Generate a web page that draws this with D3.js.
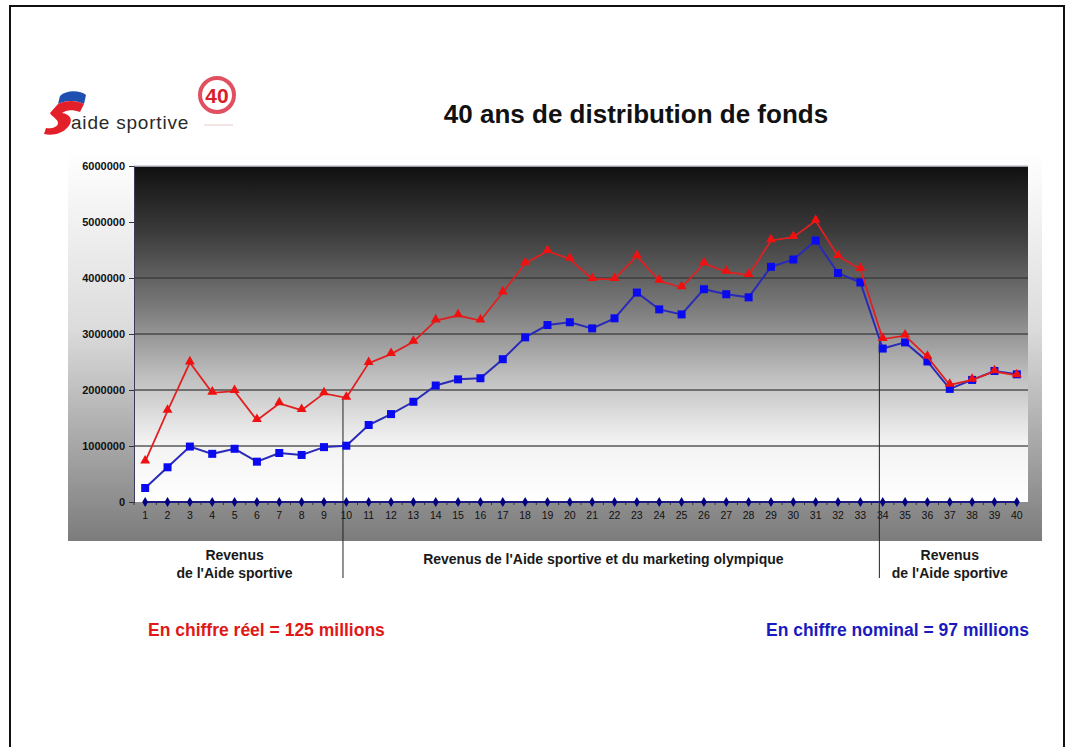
<!DOCTYPE html>
<html>
<head>
<meta charset="utf-8">
<script src="https://cdn.jsdelivr.net/npm/d3@7"></script>
<style>
  body { margin: 0; background: #fff; }
  text { font-family: "Liberation Sans", Arial, sans-serif; }
</style>
</head>
<body>
<script>
// data
var years = d3.range(1, 41);
var reel = [720000,1625000,2490000,1950000,1980000,1460000,1760000,1640000,1940000,1860000,
            2480000,2640000,2860000,3240000,3330000,3240000,3740000,4260000,4480000,4340000,
            3980000,3980000,4390000,3950000,3830000,4260000,4110000,4050000,4670000,4730000,
            5020000,4390000,4160000,2910000,2970000,2590000,2090000,2180000,2330000,2260000];
var nominal = [250000,620000,990000,860000,950000,720000,875000,840000,980000,1005000,
               1375000,1570000,1790000,2080000,2190000,2210000,2550000,2940000,3160000,3210000,
               3100000,3280000,3740000,3440000,3350000,3800000,3710000,3655000,4200000,4330000,
               4670000,4090000,3920000,2740000,2850000,2510000,2020000,2180000,2340000,2280000];
var zeroes = years.map(function(){ return 0; });
var yTicks = [0,1000000,2000000,3000000,4000000,5000000,6000000];
var periods = [
  {from:1, to:10, lines:["Revenus","de l'Aide sportive"]},
  {from:10, to:34, lines:["Revenus de l'Aide sportive et du marketing olympique"]},
  {from:34, to:41, lines:["Revenus","de l'Aide sportive"]}
];
var splits = [10, 34];

var W = 1069, H = 747;
var plot = {left:134, top:166, right:1028, bottom:502};

var svg = d3.select("body").append("svg").attr("width", W).attr("height", H);
var defs = svg.append("defs");

// chart area background (white -> grey)
var g1 = defs.append("linearGradient").attr("id","chartBg").attr("x1",0).attr("y1",0).attr("x2",0).attr("y2",1);
g1.append("stop").attr("offset","0%").attr("stop-color","#ffffff");
g1.append("stop").attr("offset","45%").attr("stop-color","#dcdcdc");
g1.append("stop").attr("offset","100%").attr("stop-color","#7c7c7c");

// plot area background (black -> white)
var g2 = defs.append("linearGradient").attr("id","plotBg").attr("x1",0).attr("y1",0).attr("x2",0).attr("y2",1);
g2.append("stop").attr("offset","0%").attr("stop-color","#101010");
g2.append("stop").attr("offset","20%").attr("stop-color","#3c3c3c");
g2.append("stop").attr("offset","42%").attr("stop-color","#7a7a7a");
g2.append("stop").attr("offset","62%").attr("stop-color","#bdbdbd");
g2.append("stop").attr("offset","82%").attr("stop-color","#f2f2f2");
g2.append("stop").attr("offset","100%").attr("stop-color","#ffffff");

// page frame
svg.append("rect").attr("x",10).attr("y",6).attr("width",1054).attr("height",760)
  .attr("fill","none").attr("stroke","#111").attr("stroke-width",2);

// chart area
svg.append("rect").attr("x",68).attr("y",152).attr("width",974).attr("height",389)
  .attr("fill","url(#chartBg)");

var x = d3.scaleBand().domain(years).range([plot.left, plot.right]);
var y = d3.scaleLinear().domain([0, 6000000]).range([plot.bottom, plot.top]);
var cx = function(d, i){ return x(years[i]) + x.bandwidth()/2; };

svg.append("rect").attr("x",plot.left).attr("y",plot.top)
  .attr("width",plot.right-plot.left).attr("height",plot.bottom-plot.top)
  .attr("fill","url(#plotBg)");
svg.append("line").attr("x1",plot.left).attr("x2",plot.right).attr("y1",plot.top).attr("y2",plot.top)
  .attr("stroke","#c8c8d8").attr("stroke-width",1.5);

// gridlines
svg.append("g").selectAll("line").data(yTicks.slice(1,6)).enter().append("line")
  .attr("x1",plot.left).attr("x2",plot.right)
  .attr("y1",function(d){return y(d);}).attr("y2",function(d){return y(d);})
  .attr("stroke","#333").attr("stroke-opacity",0.6).attr("stroke-width",2);

// y axis
var yAxis = svg.append("g").attr("transform","translate("+plot.left+",0)")
  .call(d3.axisLeft(y).tickValues(yTicks).tickFormat(d3.format("d")).tickSize(5).tickPadding(4));
yAxis.select(".domain").attr("stroke","#3a3a5a");
yAxis.selectAll(".tick line").attr("stroke","#333");
yAxis.selectAll("text").attr("font-size",11).attr("font-weight","bold").attr("fill","#111")
  .attr("font-family","Liberation Sans, Arial, sans-serif");

// x axis
var xAxis = svg.append("g").attr("transform","translate(0,"+plot.bottom+")")
  .call(d3.axisBottom(x).tickSize(0).tickPadding(10));
xAxis.select(".domain").remove();
xAxis.selectAll("text").attr("font-size",10.5).attr("fill","#111")
  .attr("font-family","Liberation Sans, Arial, sans-serif");
svg.append("g").selectAll("line").data(years).enter().append("line")
  .attr("x1",function(d){return x(d);}).attr("x2",function(d){return x(d);})
  .attr("y1",plot.bottom).attr("y2",plot.bottom+3)
  .attr("stroke","#333").attr("stroke-width",1);

// separators between periods
svg.append("g").selectAll("line").data(splits).enter().append("line")
  .attr("x1",function(d){return x(d) + x.bandwidth()*0.35;})
  .attr("x2",function(d){return x(d) + x.bandwidth()*0.35;})
  .attr("y1",function(d){return y(Math.max(reel[d-1], nominal[d-1]));})
  .attr("y2",578)
  .attr("stroke","#222").attr("stroke-width",1);

var line = d3.line().x(cx).y(function(d){ return y(d); });

// zero series
svg.append("path").datum(zeroes).attr("d",line)
  .attr("fill","none").attr("stroke","#1a1a80").attr("stroke-width",2);
svg.append("g").selectAll("path").data(zeroes).enter().append("path")
  .attr("d", d3.symbol().type(d3.symbolDiamond).size(30))
  .attr("transform",function(d,i){return "translate("+cx(d,i)+","+y(d)+")";})
  .attr("fill","#000080");

// nominal (blue)
svg.append("path").datum(nominal).attr("d",line)
  .attr("fill","none").attr("stroke","#2a2ab8").attr("stroke-width",2);
svg.append("g").selectAll("rect").data(nominal).enter().append("rect")
  .attr("x",function(d,i){return cx(d,i)-4;}).attr("y",function(d){return y(d)-4;})
  .attr("width",8).attr("height",8).attr("fill","#0a0af0");

// reel (red)
svg.append("path").datum(reel).attr("d",line)
  .attr("fill","none").attr("stroke","#e02020").attr("stroke-width",1.8);
svg.append("g").selectAll("path").data(reel).enter().append("path")
  .attr("d", d3.symbol().type(d3.symbolTriangle).size(42))
  .attr("transform",function(d,i){return "translate("+cx(d,i)+","+(y(d)-1)+")";})
  .attr("fill","#f01010");

// period labels
periods.forEach(function(p){
  var mid = (x(p.from) + (p.to > 40 ? plot.right : x(p.to))) / 2;
  var t = svg.append("text").attr("x", mid).attr("text-anchor","middle")
    .attr("font-size",14).attr("font-weight","bold").attr("fill","#1a1a1a");
  if (p.lines.length === 1) {
    t.attr("y",564).text(p.lines[0]);
  } else {
    p.lines.forEach(function(s, k){
      t.append("tspan").attr("x",mid).attr("y",560 + k*18).text(s);
    });
  }
});

// totals
svg.append("text").attr("x",148).attr("y",636).attr("font-size",17.5).attr("font-weight","bold")
  .attr("fill","#e01818").text("En chiffre réel = 125 millions");
svg.append("text").attr("x",1029).attr("y",636).attr("text-anchor","end").attr("font-size",17.5)
  .attr("font-weight","bold").attr("fill","#1a1ac0").text("En chiffre nominal = 97 millions");

// title
svg.append("text").attr("x",636).attr("y",123).attr("text-anchor","middle")
  .attr("font-size",26).attr("font-weight","bold").attr("fill","#111")
  .text("40 ans de distribution de fonds");

// logo
var logo = svg.append("g");
logo.append("path").attr("d","M60,96 C66,90 80,90 86,95 L84,104 C76,100 66,100 58,104 Z").attr("fill","#1f4fb0");
logo.append("path")
  .attr("d","M58,104 C66,100 76,100 84,104 L80,112 C72,109 66,110 62,113 C70,114 74,120 68,127 C62,134 52,136 44,134 L46,128 C52,129 58,127 58,123 C58,119 52,117 50,113 Z")
  .attr("fill","#e3202a");
logo.append("text").attr("x",71).attr("y",129).attr("font-size",19).attr("letter-spacing",0.8)
  .attr("fill","#2a2a2a").attr("font-family","DejaVu Sans, sans-serif").text("aide sportive");
logo.append("circle").attr("cx",217).attr("cy",95).attr("r",17).attr("fill","#fff")
  .attr("stroke","#e05060").attr("stroke-width",4);
logo.append("text").attr("x",217).attr("y",103).attr("text-anchor","middle").attr("font-size",21)
  .attr("font-weight","bold").attr("fill","#d8202a").text("40");
logo.append("line").attr("x1",204).attr("x2",233).attr("y1",125).attr("y2",125)
  .attr("stroke","#e8c8c8").attr("stroke-width",1);
</script>
</body>
</html>
